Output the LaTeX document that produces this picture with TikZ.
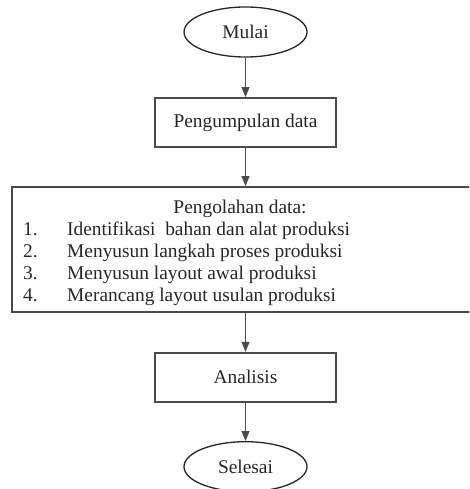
\documentclass[tikz,border=0pt]{standalone}
\usepackage{fontspec}
\setmainfont{Liberation Serif}
\usetikzlibrary{arrows.meta,shapes.geometric}
\definecolor{boxline}{HTML}{4A4A4A}
\definecolor{txt}{HTML}{262626}
\begin{document}
\begin{tikzpicture}[x=1pt,y=-1pt,
  font=\fontsize{19.4}{22}\selectfont,
  term/.style={ellipse, draw=black!85, line width=1.3pt, minimum width=123pt, minimum height=50pt, inner sep=0pt, text=txt},
  procbox/.style={rectangle, draw=boxline, line width=1.8pt, minimum width=181pt, minimum height=49pt, inner sep=0pt, text=txt},
  flow/.style={draw=black!70, line width=0.8pt, -{Triangle[width=8pt,length=10pt]}},
  listtxt/.style={inner sep=0pt, text=txt}]
\useasboundingbox (0,0) rectangle (469,489);
\clip (0,0) rectangle (469,489);
\node[term] (mulai) at (245.5,32) {Mulai};
\node[procbox] (kumpul) at (245.5,122.5) {Pengumpulan data};
\node[procbox, minimum width=467.6pt, minimum height=125pt] (olah) at (245.5,249.5) {};
\node[procbox] (analisis) at (245.5,377.2) {Analisis};
\node[term] (selesai) at (245.5,466.7) {Selesai};
\node[listtxt, anchor=base] (judul) at (240,213) {Pengolahan data:};
\node[listtxt, anchor=base west] (n1) at (23,235) {1.};
\node[listtxt, anchor=base west] (i1) at (67,235) {Identifikasi\ \ bahan dan alat produksi};
\node[listtxt, anchor=base west] (n2) at (23,257) {2.};
\node[listtxt, anchor=base west] (i2) at (67,257) {Menyusun langkah proses produksi};
\node[listtxt, anchor=base west] (n3) at (23,279) {3.};
\node[listtxt, anchor=base west] (i3) at (67,279) {Menyusun layout awal produksi};
\node[listtxt, anchor=base west] (n4) at (23,301) {4.};
\node[listtxt, anchor=base west] (i4) at (67,301) {Merancang layout usulan produksi};
\draw[flow] (mulai) -- (kumpul);
\draw[flow] (kumpul) -- (olah);
\draw[flow] (olah) -- (analisis);
\draw[flow] (analisis) -- (selesai);
\end{tikzpicture}
\end{document}
